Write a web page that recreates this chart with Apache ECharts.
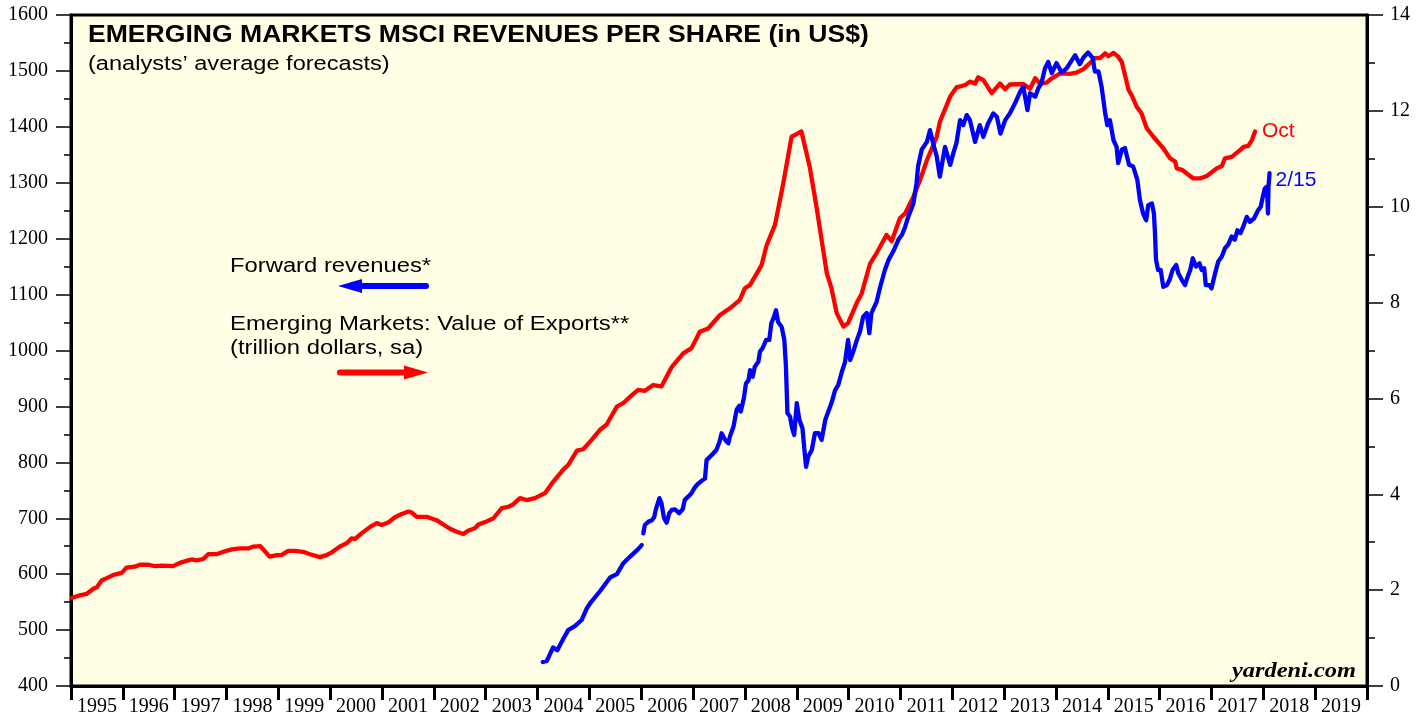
<!DOCTYPE html>
<html>
<head>
<meta charset="utf-8">
<script src="https://cdn.jsdelivr.net/npm/echarts@6/dist/echarts.min.js"></script>
<style>
  html, body { margin: 0; padding: 0; background: #fff; }
  #chart { width: 1426px; height: 717px; }
</style>
</head>
<body>
<div id="chart"></div>
<script>
// year labels on the x axis
var yearLabels = [];
for (var y = 1995; y <= 2019; y++) yearLabels.push(String(y));

// EM value of exports, trillion dollars (right axis)
var exportsT = [
  1995.02,1995.17,1995.30,1995.43,1995.50,1995.59,1995.69,1995.82,1995.98,1996.07,
  1996.23,1996.33,1996.49,1996.62,1996.75,1996.97,1997.10,1997.26,1997.33,1997.42,
  1997.55,1997.65,1997.81,1997.94,1998.10,1998.26,1998.42,1998.52,1998.65,1998.83,
  1998.97,1999.06,1999.19,1999.32,1999.48,1999.61,1999.80,1999.93,2000.03,2000.19,
  2000.32,2000.41,2000.48,2000.61,2000.77,2000.90,2000.99,2001.12,2001.25,2001.38,
  2001.51,2001.57,2001.67,2001.86,2002.05,2002.31,2002.44,2002.57,2002.66,2002.79,
  2002.86,2002.99,2003.15,2003.31,2003.44,2003.53,2003.66,2003.79,2003.95,2004.15,
  2004.30,2004.50,2004.59,2004.76,2004.88,2005.04,2005.20,2005.33,2005.53,2005.65,
  2005.82,2005.94,2006.07,2006.23,2006.39,2006.59,2006.81,2006.97,2007.13,2007.29,
  2007.52,2007.71,2007.90,2008.00,2008.10,2008.23,2008.32,2008.42,2008.58,2008.74,
  2008.90,2008.97,2009.09,2009.25,2009.38,2009.58,2009.67,2009.77,2009.90,2009.99,
  2010.16,2010.25,2010.41,2010.54,2010.73,2010.83,2010.99,2011.09,2011.25,2011.38,
  2011.51,2011.70,2011.76,2011.96,2012.08,2012.25,2012.34,2012.44,2012.50,2012.60,
  2012.76,2012.92,2013.02,2013.11,2013.37,2013.50,2013.60,2013.69,2013.82,2013.92,
  2014.08,2014.27,2014.40,2014.53,2014.66,2014.75,2014.85,2014.95,2015.01,2015.11,
  2015.20,2015.27,2015.40,2015.46,2015.56,2015.65,2015.75,2015.88,2016.07,2016.20,
  2016.30,2016.33,2016.43,2016.65,2016.78,2016.91,2017.10,2017.20,2017.26,2017.39,
  2017.55,2017.62,2017.71,2017.78,2017.84
];
var exportsV = [
  1.84,1.89,1.92,2.03,2.06,2.20,2.25,2.32,2.36,2.47,
  2.49,2.53,2.53,2.50,2.51,2.50,2.57,2.62,2.64,2.62,
  2.65,2.75,2.75,2.80,2.85,2.87,2.87,2.91,2.92,2.70,
  2.73,2.73,2.82,2.82,2.80,2.75,2.69,2.73,2.79,2.91,
  2.98,3.08,3.07,3.19,3.32,3.40,3.36,3.41,3.52,3.59,
  3.64,3.62,3.53,3.53,3.46,3.28,3.22,3.17,3.24,3.29,
  3.37,3.42,3.50,3.71,3.74,3.79,3.92,3.88,3.92,4.03,
  4.26,4.52,4.61,4.91,4.94,5.13,5.34,5.45,5.83,5.90,
  6.07,6.18,6.16,6.28,6.25,6.66,6.94,7.05,7.39,7.46,
  7.74,7.88,8.05,8.30,8.37,8.61,8.78,9.20,9.62,10.49,
  11.46,11.50,11.57,10.83,10.00,8.61,8.30,7.78,7.50,7.57,
  8.00,8.18,8.80,9.03,9.41,9.28,9.76,9.86,10.21,10.56,
  10.97,11.46,11.77,12.30,12.49,12.54,12.61,12.57,12.70,12.64,
  12.37,12.57,12.45,12.55,12.56,12.46,12.68,12.57,12.59,12.68,
  12.78,12.77,12.80,12.87,13.00,13.10,13.10,13.20,13.14,13.21,
  13.13,13.02,12.44,12.33,12.08,11.95,11.64,11.46,11.22,11.01,
  10.94,10.80,10.77,10.59,10.59,10.64,10.80,10.85,11.01,11.04,
  11.18,11.25,11.27,11.39,11.57
];

// forward revenues per share, US$ (left axis) - early monthly segment
var revEarlyT = [2004.10,2004.18,2004.30,2004.38,2004.50,2004.59,2004.72,2004.85,2004.95,2005.04,
                 2005.20,2005.40,2005.53,2005.65,2005.78,2005.91,2006.01];
var revEarlyV = [443,445,469,464,485,500,507,518,539,551,569,594,600,619,631,642,652];

// forward revenues per share - weekly segment
var revT = [
  2006.04,2006.07,2006.14,2006.20,2006.25,2006.28,2006.35,2006.39,2006.44,2006.49,
  2006.54,2006.59,2006.65,2006.73,2006.80,2006.84,2006.91,2006.97,2007.04,2007.10,
  2007.18,2007.23,2007.26,2007.36,2007.45,2007.51,2007.55,2007.62,2007.68,2007.71,
  2007.78,2007.84,2007.89,2007.92,2007.98,2008.02,2008.07,2008.10,2008.15,2008.19,
  2008.26,2008.29,2008.34,2008.41,2008.47,2008.51,2008.56,2008.60,2008.64,2008.71,
  2008.76,2008.79,2008.82,2008.87,2008.91,2008.95,2009.00,2009.05,2009.11,2009.16,
  2009.18,2009.22,2009.29,2009.35,2009.42,2009.48,2009.55,2009.61,2009.67,2009.74,
  2009.80,2009.87,2009.93,2009.99,2010.03,2010.09,2010.16,2010.22,2010.28,2010.35,
  2010.40,2010.44,2010.54,2010.61,2010.70,2010.77,2010.86,2010.96,2011.03,2011.09,
  2011.15,2011.25,2011.31,2011.34,2011.41,2011.51,2011.57,2011.63,2011.70,2011.76,
  2011.86,2011.96,2012.02,2012.08,2012.15,2012.21,2012.28,2012.34,2012.44,2012.53,
  2012.60,2012.69,2012.79,2012.86,2012.93,2013.02,2013.11,2013.21,2013.31,2013.37,
  2013.45,2013.50,2013.60,2013.66,2013.72,2013.79,2013.85,2013.92,2014.01,2014.11,
  2014.21,2014.27,2014.37,2014.46,2014.53,2014.62,2014.71,2014.75,2014.82,2014.88,
  2014.95,2014.99,2015.04,2015.11,2015.17,2015.20,2015.27,2015.33,2015.41,2015.49,
  2015.57,2015.62,2015.68,2015.74,2015.78,2015.85,2015.89,2015.91,2015.93,2015.97,
  2016.02,2016.07,2016.14,2016.19,2016.25,2016.32,2016.36,2016.43,2016.49,2016.53,
  2016.59,2016.64,2016.70,2016.77,2016.81,2016.86,2016.89,2016.96,2017.00,2017.07,
  2017.13,2017.20,2017.26,2017.32,2017.39,2017.45,2017.50,2017.56,2017.61,2017.68,
  2017.74,2017.82,2017.90,2017.95,2017.99,2018.03,2018.07,2018.09,2018.10,2018.12
];
var revV = [
  673,688,694,696,702,715,736,727,700,692,
  709,715,716,709,716,733,739,745,756,762,
  768,771,804,813,822,837,852,840,834,846,
  864,894,901,891,915,941,947,965,953,971,
  980,998,1004,1019,1019,1049,1060,1072,1051,1042,
  1019,974,888,882,861,849,906,876,861,810,
  792,810,822,852,852,840,876,891,906,929,
  938,962,979,1019,983,998,1019,1034,1060,1067,
  1031,1067,1087,1114,1144,1162,1177,1198,1207,1221,
  1239,1263,1299,1329,1359,1373,1394,1371,1347,1311,
  1364,1332,1353,1371,1412,1403,1421,1412,1373,1403,
  1382,1406,1424,1418,1388,1412,1424,1442,1463,1472,
  1430,1460,1454,1469,1478,1505,1516,1496,1514,1497,
  1505,1514,1528,1512,1524,1533,1523,1499,1499,1472,
  1424,1403,1412,1376,1364,1335,1359,1362,1332,1329,
  1305,1269,1245,1233,1260,1263,1245,1210,1162,1144,
  1144,1114,1117,1126,1144,1153,1138,1126,1117,1129,
  1144,1165,1150,1156,1144,1147,1117,1117,1111,1138,
  1159,1168,1183,1189,1204,1198,1215,1210,1221,1239,
  1230,1236,1251,1257,1275,1290,1293,1245,1293,1317
];

function pairs(ts, vs) {
  return ts.map(function (t, i) { return [t, vs[i]]; });
}

var exportsData = pairs(exportsT, exportsV);
var revData = pairs(revEarlyT, revEarlyV)
  .concat([[2006.025, '-']])
  .concat(pairs(revT, revV));

var serif = '"Liberation Serif", "DejaVu Serif", serif';
var sans = '"Liberation Sans", Arial, sans-serif';

// text in the original is a little wider than Liberation Sans
function label(txt, x, y, font, sx, extra) {
  var el = {
    type: 'text', x: x, y: y, scaleX: sx,
    style: { text: txt, font: font, fill: '#000', textVerticalAlign: 'middle' }
  };
  if (extra) for (var k in extra) el.style[k] = extra[k];
  return el;
}

var chart = echarts.init(document.getElementById('chart'), null, { renderer: 'canvas' });

var option = {
  animation: false,
  backgroundColor: '#ffffff',
  grid: {
    left: 71, right: 59, top: 15, bottom: 31,
    show: true,
    backgroundColor: '#FFFFE6',
    borderColor: '#000',
    borderWidth: 3,
    outerBoundsMode: 'none'
  },
  xAxis: [
    {
      type: 'category',
      data: yearLabels,
      boundaryGap: true,
      axisLine: { lineStyle: { color: '#000', width: 3 } },
      axisTick: { show: true, interval: 0, length: 14, lineStyle: { color: '#000', width: 3 } },
      axisLabel: { interval: 0, margin: 11, fontFamily: serif, fontSize: 20, color: '#000' },
      splitLine: { show: false }
    },
    {
      type: 'value', min: 1995, max: 2020, show: false
    }
  ],
  yAxis: [
    {
      type: 'value', min: 400, max: 1600, interval: 100, position: 'left',
      axisLine: { show: true, lineStyle: { color: '#000', width: 3 } },
      axisTick: { show: true, length: 15, lineStyle: { color: '#000', width: 1.5 } },
      minorTick: { show: true, splitNumber: 2, length: 7, lineStyle: { color: '#000', width: 1.5 } },
      axisLabel: {
        margin: 23, fontFamily: serif, fontSize: 20, color: '#000',
        formatter: function (v) { return String(v); }
      },
      splitLine: { show: false }
    },
    {
      type: 'value', min: 0, max: 14, interval: 2, position: 'right',
      axisLine: { show: true, lineStyle: { color: '#000', width: 3 } },
      axisTick: { show: true, length: 16, lineStyle: { color: '#000', width: 1.5 } },
      minorTick: { show: true, splitNumber: 2, length: 8, lineStyle: { color: '#000', width: 1.5 } },
      axisLabel: { margin: 23, fontFamily: serif, fontSize: 20, color: '#000' },
      splitLine: { show: false }
    }
  ],
  series: [
    {
      name: 'Emerging Markets: Value of Exports',
      type: 'line',
      xAxisIndex: 1,
      yAxisIndex: 1,
      data: exportsData,
      showSymbol: false,
      lineStyle: { color: '#FF0000', width: 4.3, join: 'round', cap: 'round' },
      endLabel: {
        show: true, formatter: 'Oct', distance: 7,
        fontFamily: sans, fontSize: 21, color: '#FF0000'
      },
      z: 3
    },
    {
      name: 'Forward revenues',
      type: 'line',
      xAxisIndex: 1,
      yAxisIndex: 0,
      data: revData,
      connectNulls: false,
      showSymbol: false,
      lineStyle: { color: '#0000FF', width: 4.3, join: 'round', cap: 'round' },
      endLabel: {
        show: true, formatter: '2/15', distance: 6, offset: [0, 7],
        fontFamily: sans, fontSize: 21, color: '#0000FF'
      },
      z: 4
    }
  ],
  graphic: [
    label('EMERGING MARKETS MSCI REVENUES PER SHARE (in US$)', 88, 36, 'bold 23px ' + sans, 1.155),
    label('(analysts\u2019 average forecasts)', 88, 64, '20px ' + sans, 1.18),
    label('Forward revenues*', 230, 266, '20px ' + sans, 1.19),
    { type: 'line', shape: { x1: 356, y1: 286, x2: 426, y2: 286 }, style: { stroke: '#0000FF', lineWidth: 6, lineCap: 'round' } },
    { type: 'polygon', shape: { points: [[338, 286], [362, 279], [362, 293]] }, style: { fill: '#0000FF' } },
    label('Emerging Markets: Value of Exports**', 230, 324, '20px ' + sans, 1.195),
    label('(trillion dollars, sa)', 230, 348, '20px ' + sans, 1.19),
    { type: 'line', shape: { x1: 340, y1: 372.5, x2: 410, y2: 372.5 }, style: { stroke: '#FF0000', lineWidth: 6, lineCap: 'round' } },
    { type: 'polygon', shape: { points: [[428, 372.5], [404, 365.5], [404, 379.5]] }, style: { fill: '#FF0000' } },
    label('yardeni.com', 1356, 672, 'italic bold 20px ' + serif, 1.22, { textAlign: 'right' })
  ]
};

chart.setOption(option);
window.addEventListener('resize', function () { chart.resize(); });
</script>
</body>
</html>
